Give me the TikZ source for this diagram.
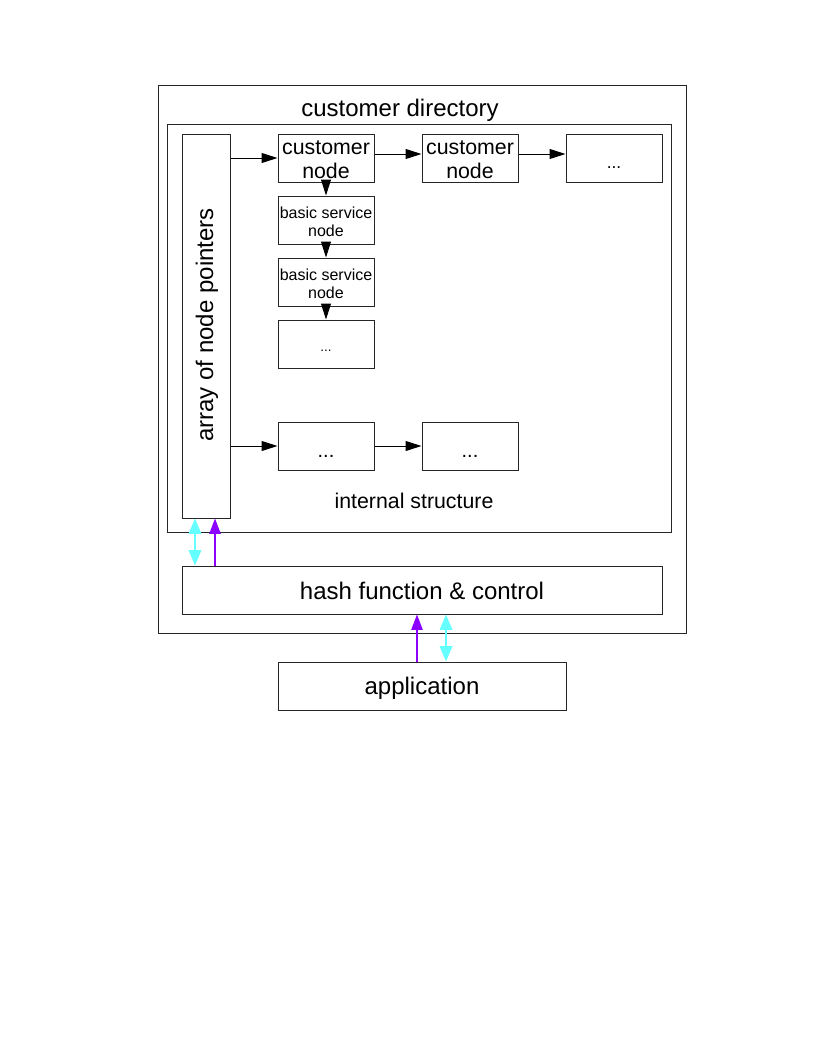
\documentclass[tikz,border=0pt]{standalone}
\usepackage{fontspec}
\setmainfont{Liberation Sans}
\usetikzlibrary{arrows.meta}
\definecolor{lcyan}{RGB}{102,255,255}
\definecolor{lpurple}{RGB}{140,0,255}
\newcommand\lowdots[1]{\raisebox{-#1}[0pt][0pt]{...}}
\newcommand\lowtext[2]{\raisebox{-#1}[\height][\depth]{#2}}
\tikzset{
  box/.style={draw=black!85, line width=0.75pt, fill=white, inner sep=0pt, align=center},
  nbox/.style={box, minimum width=72pt, minimum height=36pt},
  arr/.style={line width=0.75pt, -{Triangle[length=12pt,width=7.5pt]}},
  cyanarr/.style={lcyan, line width=0.9pt, {Triangle[length=11.5pt,width=9.5pt]}-{Triangle[length=11.5pt,width=9.5pt]}},
  purparr/.style={lpurple, line width=0.8pt, -{Triangle[length=11.5pt,width=8.5pt]}},
  big/.style={font=\fontsize{18pt}{21pt}\selectfont},
  mid/.style={font=\fontsize{16pt}{18pt}\selectfont},
  small/.style={font=\fontsize{12pt}{13.5pt}\selectfont},
}
\begin{document}
\begin{tikzpicture}[x=0.75pt,y=-0.75pt]
\useasboundingbox (0,0) rectangle (816,1056);
\node[box, minimum width=396pt, minimum height=410.25pt] (outer) at (422,359.5) {};
\node[big, inner sep=0pt] (title) at (400,110) {customer directory};
\node[box, minimum width=378pt, minimum height=306pt] (inner) at (419,328) {};
\node[mid, inner sep=0pt] (intlabel) at (414,501) {internal structure};
\node[box, minimum width=36pt, minimum height=288pt] (array) at (206,326) {};
\node[big, rotate=90, inner sep=0pt] (arraytext) at (207,325) {array of node pointers};
\node[nbox, mid] (cust1) at (326,158) {\lowtext{1pt}{customer}\\\lowtext{1pt}{node}};
\node[nbox, mid] (cust2) at (470,158) {\lowtext{1pt}{customer}\\\lowtext{1pt}{node}};
\node[nbox, font=\fontsize{13pt}{15pt}\selectfont] (dots1) at (614,158) {\lowdots{8pt}};
\node[nbox, small] (bs1) at (326,220) {\lowtext{1pt}{basic service}\\\lowtext{1pt}{node}};
\node[nbox, small] (bs2) at (326,282) {\lowtext{1pt}{basic service}\\\lowtext{1pt}{node}};
\node[nbox, font=\fontsize{10pt}{12pt}\selectfont] (dots2) at (326,344) {\lowdots{5.5pt}};
\node[nbox, font=\fontsize{15pt}{17pt}\selectfont] (dots3) at (326,446) {\lowdots{8.25pt}};
\node[nbox, font=\fontsize{15pt}{17pt}\selectfont] (dots4) at (470,446) {\lowdots{8.25pt}};
\node[box, big, minimum width=360pt, minimum height=36pt] (hash) at (422,590) {\lowtext{1pt}{hash function \& control}};
\node[box, big, minimum width=216pt, minimum height=36pt] (app) at (422,686) {\lowtext{1.5pt}{application}};
% arrows
\draw[arr] (array.east |- cust1) -- (cust1.west);
\draw[arr] ([yshift=3pt]cust1.east) -- ([yshift=3pt]cust2.west);
\draw[arr] ([yshift=3pt]cust2.east) -- ([yshift=3pt]dots1.west);
\draw[arr] (cust1.south) -- (bs1.north);
\draw[arr] (bs1.south) -- (bs2.north);
\draw[arr] (bs2.south) -- (dots2.north);
\draw[arr] (array.east |- dots3) -- (dots3.west);
\draw[arr] (dots3.east) -- (dots4.west);
\draw[cyanarr] ([xshift=-8.25pt]array.south) -- ([xshift=-8.25pt]array.south |- hash.north);
\draw[purparr] ([xshift=6.75pt]array.south |- hash.north) -- ([xshift=6.75pt]array.south);
\draw[purparr] ([xshift=-3.75pt]app.north) -- ([xshift=-3.75pt]hash.south);
\draw[cyanarr] ([xshift=18pt]hash.south) -- ([xshift=18pt]hash.south |- app.north);
\end{tikzpicture}
\end{document}
